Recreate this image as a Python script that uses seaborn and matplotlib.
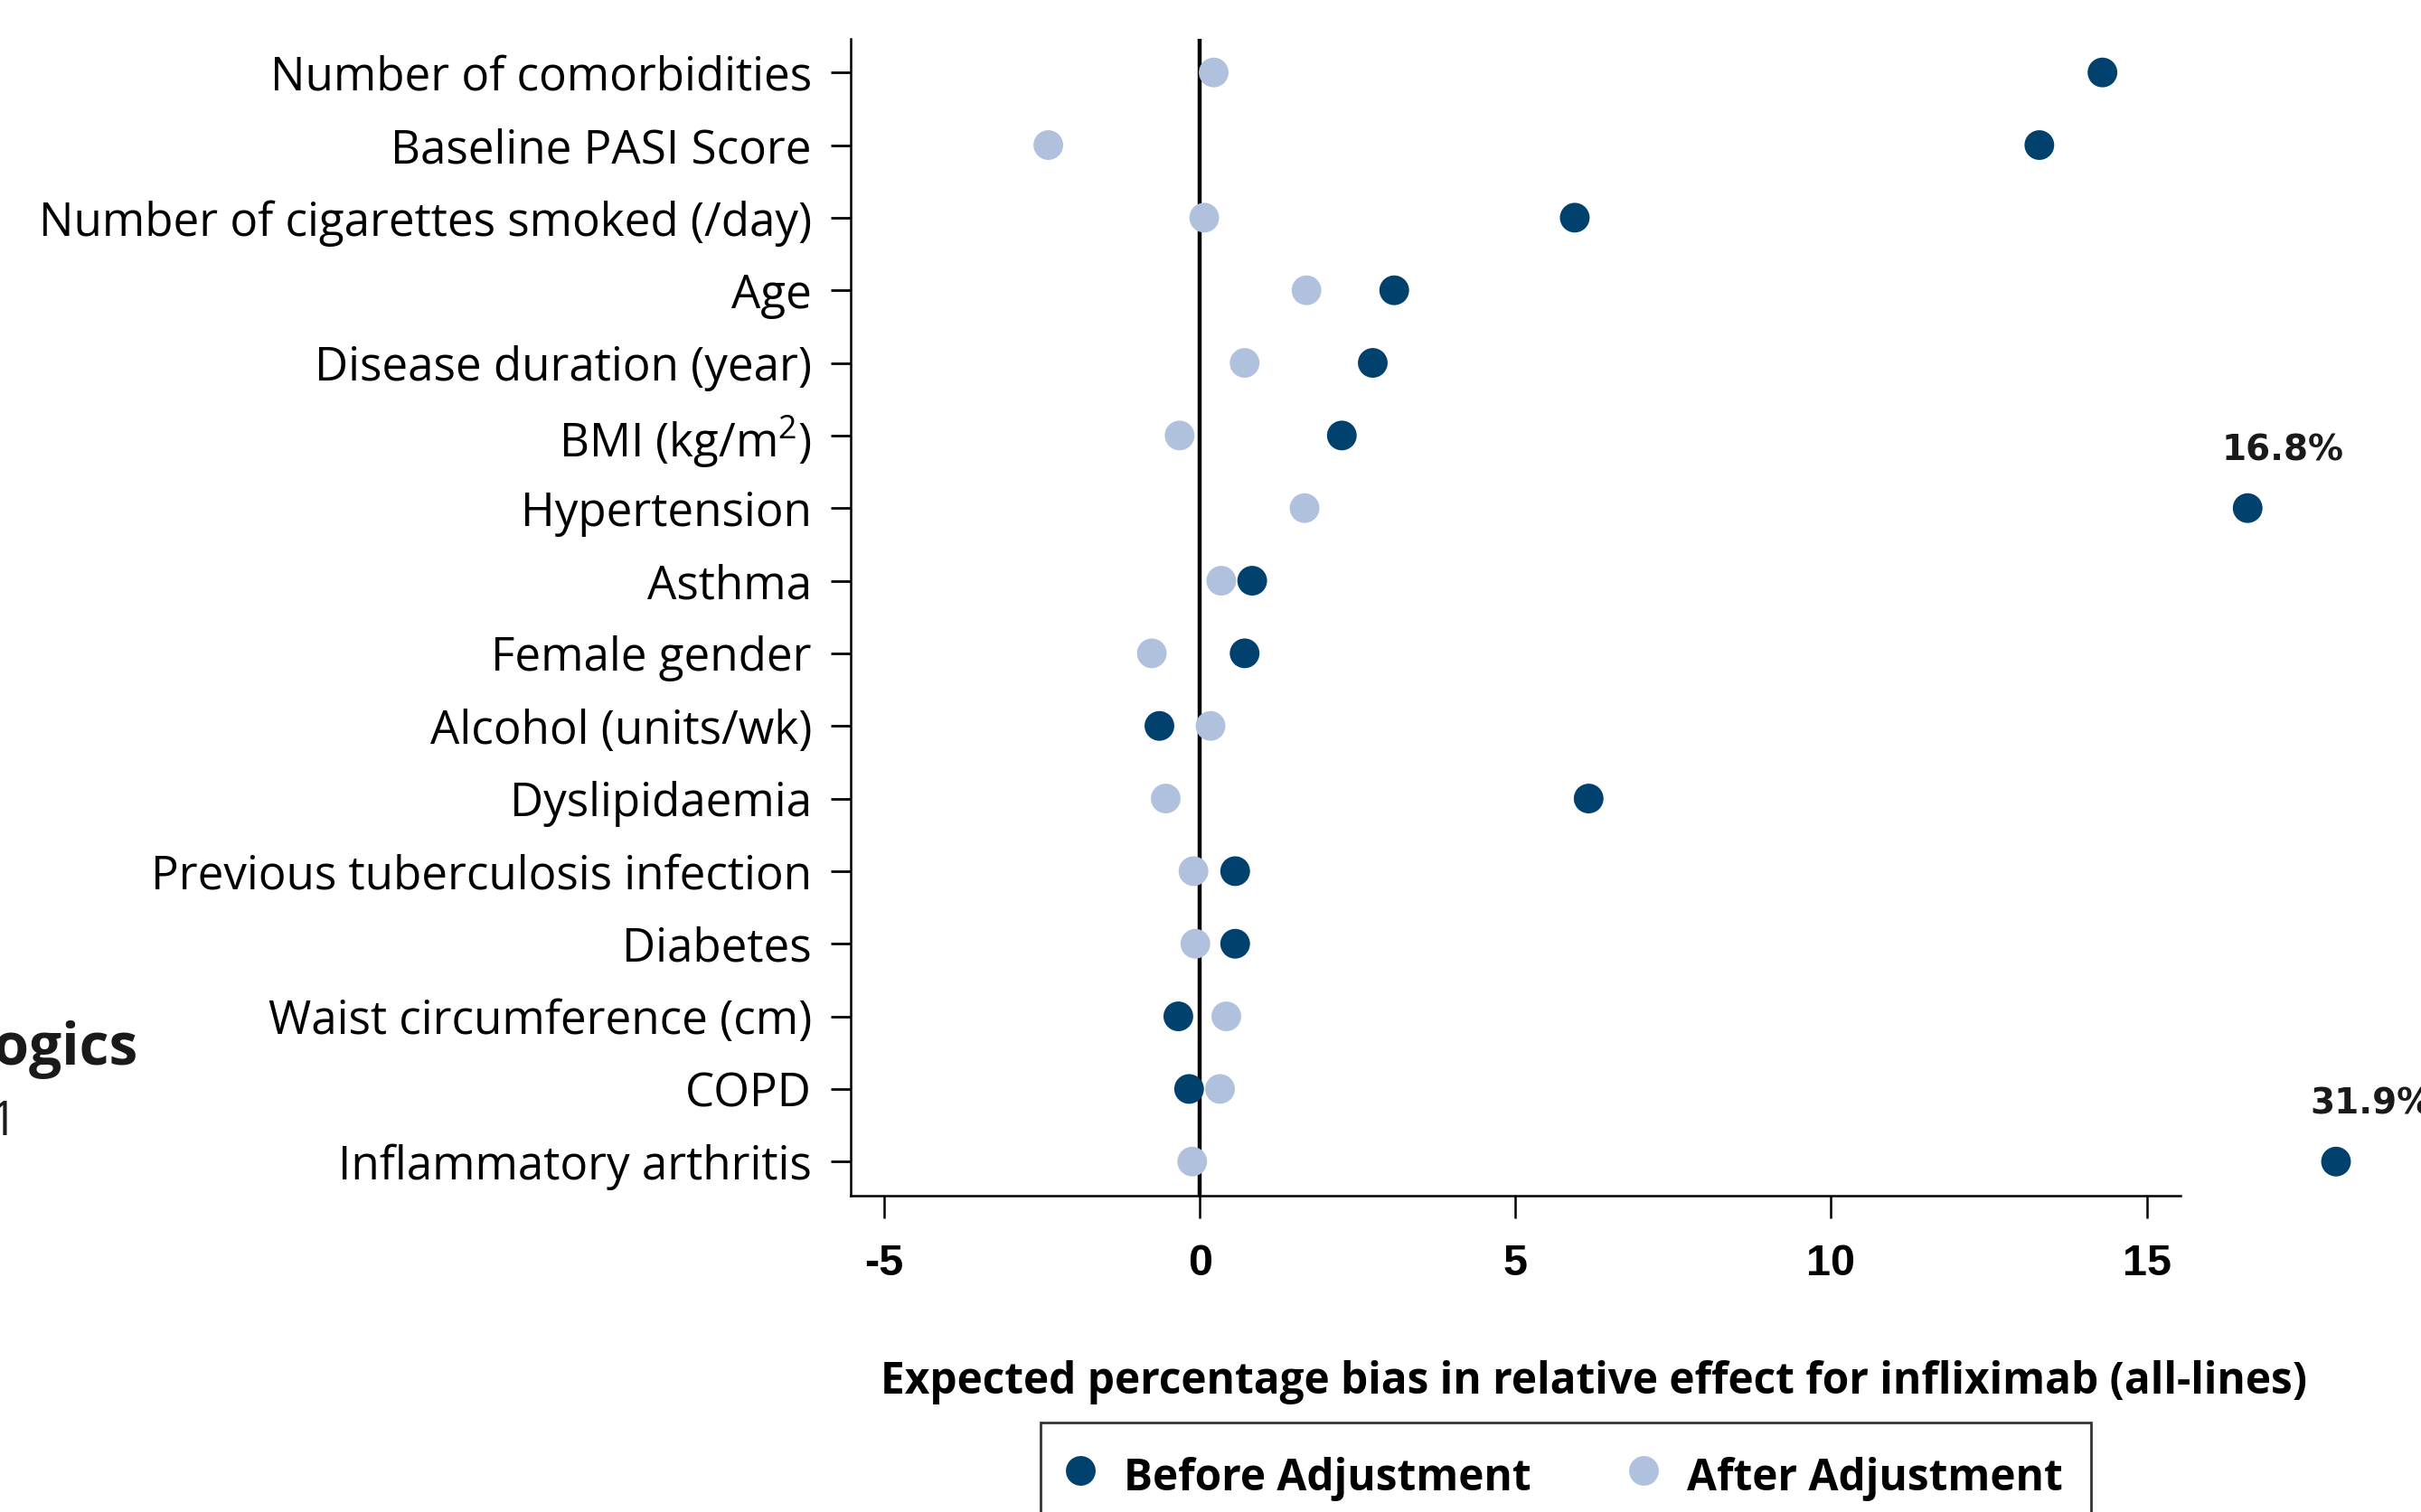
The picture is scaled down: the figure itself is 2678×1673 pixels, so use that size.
import matplotlib
matplotlib.use("Agg")
import matplotlib.pyplot as plt
import seaborn as sns
import pandas as pd
import numpy as np

categories = [
    "Number of comorbidities", "Baseline PASI Score", "Number of cigarettes smoked (/day)",
    "Age", "Disease duration (year)", "BMI (kg/m$^2$)", "Hypertension", "Asthma",
    "Female gender", "Alcohol (units/wk)", "Dyslipidaemia", "Previous tuberculosis infection",
    "Diabetes", "Waist circumference (cm)", "COPD", "Inflammatory arthritis",
]
before_adj = [14.3, 13.3, 5.94, 3.08, 2.74, 2.25, 16.6, 0.83, 0.71, -0.64, 6.16, 0.56, 0.56, -0.34, -0.17, 18.0]
after_adj = [0.22, -2.4, 0.07, 1.69, 0.71, -0.32, 1.66, 0.34, -0.76, 0.17, -0.54, -0.10, -0.07, 0.42, 0.32, -0.12]
outlier_labels = {"Hypertension": "16.8%", "Inflammatory arthritis": "31.9%"}
x_ticks = [-5, 0, 5, 10, 15]
series_names = ["Before Adjustment", "After Adjustment"]
colors = ["#00416E", "#B0C1DE"]

sns.set_theme(style="white")
plt.rcParams["font.family"] = ["Open Sans", "DejaVu Sans"]
plt.rcParams["mathtext.fontset"] = "custom"
plt.rcParams["mathtext.rm"] = "Open Sans"
plt.rcParams["mathtext.it"] = "Open Sans:italic"
for k in ["text.color", "axes.labelcolor", "xtick.color", "ytick.color"]:
    plt.rcParams[k] = "black"

df = pd.DataFrame({
    "category": categories * 2,
    "value": before_adj + after_adj,
    "series": [series_names[0]] * len(categories) + [series_names[1]] * len(categories),
})

fig = plt.figure(figsize=(13.39, 8.365), dpi=200)
ax = fig.add_axes([0.3514, 0.2092, 0.5491, 0.7653])

ax.axvline(0, color="black", lw=1.6, zorder=1)

sns.scatterplot(data=df, x="value", y="category", hue="series", hue_order=series_names,
                palette=colors, s=140, edgecolor="none", linewidth=0, ax=ax,
                clip_on=False, zorder=3, legend=True)

for cat, lab in outlier_labels.items():
    idx = categories.index(cat)
    ax.annotate(lab, xy=(before_adj[idx], idx), xytext=(14, 16), textcoords="offset points",
                ha="center", va="bottom", fontsize=14, fontweight="bold",
                family="DejaVu Sans", color="#1a1a1a", annotation_clip=False)

ax.set_xlim(-5.53, 15.53)
ax.set_ylim(15.47, -0.467)
ax.set_xticks(x_ticks)
ax.set_xticklabels([str(t) for t in x_ticks], fontsize=17.5, fontweight="bold",
                   family=["Liberation Sans", "DejaVu Sans"])
ax.tick_params(axis="x", length=9, width=0.9, color="black", pad=10, bottom=True)
ax.tick_params(axis="y", length=8, width=1.0, color="black", labelsize=18.4, pad=7.5, left=True)
ax.set_ylabel("")
ax.set_xlabel("Expected percentage bias in relative effect for infliximab (all-lines)",
              fontsize=17.2, fontweight="bold")
ax.xaxis.set_label_coords(0.559, -0.142)

sns.despine(ax=ax, top=True, right=True)
for sp in ["left", "bottom"]:
    ax.spines[sp].set_color("black")
    ax.spines[sp].set_linewidth(0.9)

h, l = ax.get_legend_handles_labels()
ax.get_legend().remove()
leg = fig.legend(h, l, loc="upper center", bbox_to_anchor=(0.6468, 0.0592), ncol=2,
                 frameon=True, fancybox=False, edgecolor="black",
                 prop={"weight": "bold", "size": 17.2}, markerscale=1.0,
                 handlelength=0.5, handleheight=1.4, handletextpad=0.76, columnspacing=2.35,
                 borderpad=0.66, borderaxespad=0)
leg.get_frame().set_linewidth(1.0)

fig.text(0.0568, 0.306, "Biologics", ha="right", va="center", fontsize=23, fontweight="bold", color="#1a1a1a")
fig.text(0.0070, 0.257, "Table 1", ha="right", va="center", fontsize=19, color="#1a1a1a")

fig.savefig("out.png", dpi=200)
